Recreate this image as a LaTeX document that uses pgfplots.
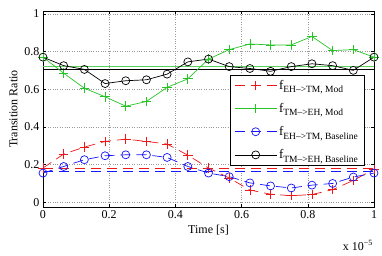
\documentclass[border=0pt]{standalone}
\usepackage{fontspec}
\setmainfont{Liberation Serif}
\usepackage{pgfplots}
\pgfplotsset{compat=1.18}
\definecolor{mred}{RGB}{235,25,25}
\definecolor{mgreen}{RGB}{40,195,40}
\definecolor{lgreen}{RGB}{90,210,90}
\definecolor{mblue}{RGB}{20,20,255}
\newcommand{\sub}[1]{{\fontsize{9.5}{10}\selectfont\raisebox{-3.5pt}{#1}}}
\begin{document}
\begin{tikzpicture}
\begin{axis}[
  scale only axis, width=331pt, height=196pt,
  xmin=0, xmax=1, ymin=-0.025, ymax=1.015,
  xtick={0,0.2,0.4,0.6,0.8,1}, ytick={0,0.2,0.4,0.6,0.8,1},
  xticklabels={0,0.2,0.4,0.6,0.8,1}, yticklabels={0,0.2,0.4,0.6,0.8,1},
  tick align=inside, major tick length=3pt,
  tick style={black, line width=0.5pt},
  grid=major, grid style={dotted, gray!80, line width=0.5pt},
  axis line style={line width=0.8pt},
  ticklabel style={font=\fontsize{12}{14}\selectfont},
  label style={font=\fontsize{12}{14}\selectfont},
  xlabel={Time [s]}, ylabel={Transition Ratio},
  legend style={at={(0.97,0.674)}, anchor=north east, draw=black, fill=white,
    font=\fontsize{13}{15}\selectfont, row sep=8.5pt, inner xsep=4pt, inner ysep=3pt},
  legend cell align=left,
  legend image code/.code={\draw[mark repeat=2,mark phase=2] plot coordinates {(0pt,0pt) (21pt,0pt) (42pt,0pt)};},
]
\coordinate (SW) at (rel axis cs:0,0);
\coordinate (NE) at (rel axis cs:1,1);
% mean lines
\addplot[draw=black, line width=0.7pt, forget plot] coordinates {(0,0.705) (1,0.705)};
\addplot[draw=lgreen, line width=1.8pt, forget plot] coordinates {(0,0.72) (1,0.72)};
\addplot[draw=mred, line width=0.7pt, dash pattern=on 10pt off 6pt, forget plot] coordinates {(0,0.182) (1,0.182)};
\addplot[draw=mblue, line width=0.7pt, dash pattern=on 10pt off 6pt, forget plot] coordinates {(0,0.162) (1,0.162)};
% curves
\addplot[draw=mred, line width=0.7pt, dash pattern=on 10pt off 6pt, mark=+, mark size=4.8pt, mark options={solid, draw=mred, fill=none}] coordinates {
(0,0.182) (0.0625,0.256) (0.125,0.293) (0.1875,0.323) (0.25,0.335) (0.3125,0.323) (0.375,0.309) (0.4375,0.250)
(0.5,0.182) (0.5625,0.129) (0.625,0.065) (0.6875,0.043) (0.75,0.035) (0.8125,0.041) (0.875,0.067) (0.9375,0.116) (1,0.175)};
\addlegendentry{f\sub{EH-->TM, Mod}}
\addplot[draw=mgreen, line width=0.7pt, mark=+, mark size=4.8pt, mark options={solid, draw=mgreen, fill=none}] coordinates {
(0,0.77) (0.0625,0.685) (0.125,0.605) (0.1875,0.56) (0.25,0.51) (0.3125,0.535) (0.375,0.61) (0.4375,0.655)
(0.5,0.76) (0.5625,0.81) (0.625,0.84) (0.6875,0.835) (0.75,0.835) (0.8125,0.88) (0.875,0.805) (0.9375,0.81) (1,0.77)};
\addlegendentry{f\sub{TM-->EH, Mod}}
\addplot[draw=mblue, line width=0.7pt, dash pattern=on 10pt off 6pt, mark=o, mark size=4pt, mark options={solid, draw=mblue, fill=none}] coordinates {
(0,0.155) (0.0625,0.19) (0.125,0.226) (0.1875,0.247) (0.25,0.252) (0.3125,0.252) (0.375,0.238) (0.4375,0.19)
(0.5,0.155) (0.5625,0.136) (0.625,0.103) (0.6875,0.087) (0.75,0.076) (0.8125,0.091) (0.875,0.100) (0.9375,0.134) (1,0.155)};
\addlegendentry{f\sub{EH-->TM, Baseline}}
\addplot[draw=black, line width=0.7pt, mark=o, mark size=4pt, mark options={solid, draw=black, fill=none}] coordinates {
(0,0.77) (0.0625,0.725) (0.125,0.705) (0.1875,0.63) (0.25,0.645) (0.3125,0.65) (0.375,0.68) (0.4375,0.745)
(0.5,0.76) (0.5625,0.72) (0.625,0.71) (0.6875,0.695) (0.75,0.72) (0.8125,0.735) (0.875,0.725) (0.9375,0.70) (1,0.77)};
\addlegendentry{f\sub{TM-->EH, Baseline}}
\end{axis}
\node[anchor=base east, font=\fontsize{12}{14}\selectfont, inner sep=0pt] at ([shift={(-1pt,-43pt)}]SW -| NE) {x 10\textsuperscript{\char"2212 5}};
\pgfresetboundingbox
\path ([shift={(-43pt,-48pt)}]SW) rectangle ([shift={(8pt,11pt)}]NE);
\end{tikzpicture}
\end{document}
